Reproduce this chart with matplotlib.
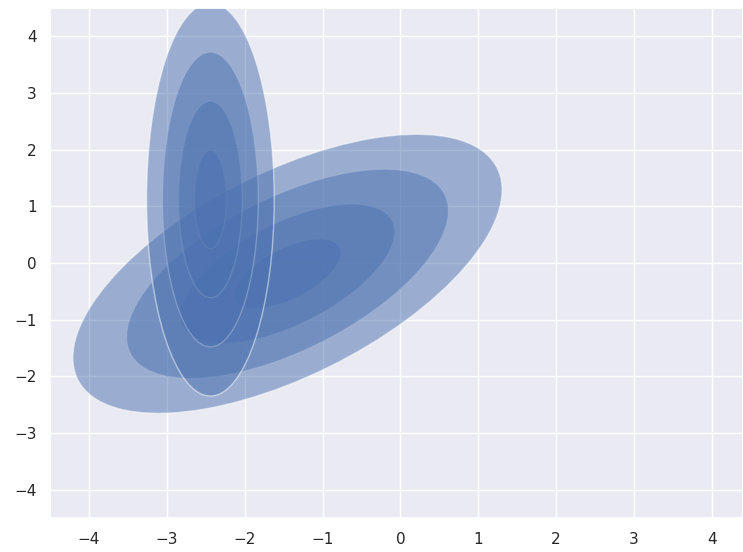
import numpy as np
import matplotlib
matplotlib.use("Agg")
import matplotlib.pyplot as plt
from matplotlib.patches import Ellipse
import seaborn as sns

sns.set_theme()

# Gaussian components: mean and covariance
means = [
    [-1.45, -0.19],
    [-2.44, 1.12],
]
covariances = [
    [[0.475, 0.255], [0.255, 0.378]],
    [[0.042, 0.000], [0.000, 0.750]],
]
sigma_levels = [1, 2, 3, 4]
fill_alpha = 0.5


def draw_ellipse(position, covariance, ax, **kwargs):
    """Draw nested ellipses for a 2D Gaussian."""
    covariance = np.asarray(covariance)
    U, s, Vt = np.linalg.svd(covariance)
    angle = np.degrees(np.arctan2(U[1, 0], U[0, 0]))
    width, height = 2 * np.sqrt(s)
    for nsig in sigma_levels:
        ax.add_patch(Ellipse(position, nsig * width, nsig * height,
                             angle=angle, **kwargs))


fig = plt.figure(figsize=(7.43, 5.52), dpi=100)
ax = fig.add_axes([0.0673, 0.061, 0.9327, 0.925])

for pos, cov in zip(means, covariances):
    draw_ellipse(pos, cov, ax, alpha=fill_alpha)

ax.set_xlim(-4.5, 4.4)
ax.set_ylim(-4.5, 4.5)
ax.set_xticks(range(-4, 5))
ax.set_yticks(range(-4, 5))

plt.savefig("out.png", dpi=100)
plt.close()
